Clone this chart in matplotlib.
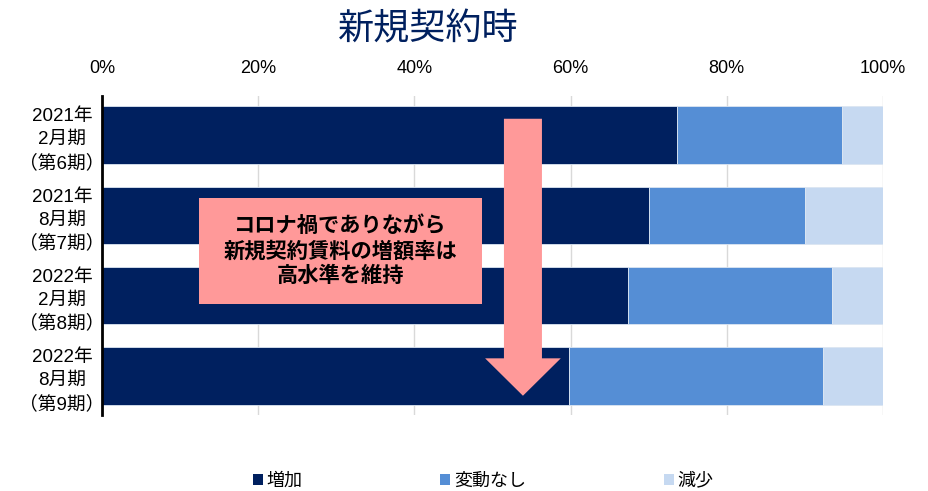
import matplotlib
matplotlib.use('Agg')
import matplotlib.pyplot as plt
from matplotlib.patches import Rectangle, FancyArrow, Patch
import numpy as np

plt.rcParams['font.family'] = ['Liberation Sans', 'Noto Sans CJK JP', 'DejaVu Sans']

TITLE = '新規契約時'
PERIODS = ['2021年\n2月期\n（第6期）', '2021年\n8月期\n（第7期）',
           '2022年\n2月期\n（第8期）', '2022年\n8月期\n（第9期）']
SERIES = ['増加', '変動なし', '減少']
INCREASE = [73.7, 70.1, 67.3, 59.8]
UNCHANGED = [21.1, 20.0, 26.2, 32.6]
DECREASE = [5.2, 9.9, 6.5, 7.6]
TICKS = [0, 20, 40, 60, 80, 100]
TICK_LABELS = ['0%', '20%', '40%', '60%', '80%', '100%']
NOTE = 'コロナ禍でありながら\n新規契約賃料の増額率は\n高水準を維持'

COLORS = ['#00205F', '#558ED5', '#C6D9F1']
PINK = '#FF9999'

fig = plt.figure(figsize=(9.29, 4.91), dpi=100)
ax = fig.add_axes([0.1101, 0.1548, 0.8401, 0.6497])

y = np.arange(len(PERIODS))
left = np.zeros(len(PERIODS))
for vals, color in zip([INCREASE, UNCHANGED, DECREASE], COLORS):
    ax.barh(y, vals, left=left, height=0.72, color=color,
            edgecolor='#DCE6F2', linewidth=0.6, zorder=2)
    left += np.array(vals)

ax.set_xlim(0, 100)
ax.set_ylim(3.49, -0.49)
ax.set_xticks(TICKS)
ax.set_xticklabels(TICK_LABELS, fontsize=13)
ax.xaxis.tick_top()
ax.tick_params(axis='x', length=0, pad=14)
ax.set_yticks(y)
ax.set_yticklabels(PERIODS, fontsize=13.5, linespacing=1.45, ha='center')
ax.tick_params(axis='y', length=0, pad=29)
ax.grid(axis='x', color='#D9D9D9', linewidth=1, zorder=0)
ax.set_axisbelow(True)
for side in ['top', 'right', 'bottom']:
    ax.spines[side].set_visible(False)
ax.spines['left'].set_linewidth(2)
ax.spines['left'].set_color('black')
ax.spines['left'].set_zorder(5)

# callout box and downward arrow
ax.add_patch(Rectangle((12.4, 0.78), 36.3, 1.32, facecolor=PINK,
                       edgecolor='none', zorder=4))
ax.text(30.5, 1.44, NOTE, ha='center', va='center', fontsize=15.3,
        fontweight='bold', linespacing=1.25, zorder=5,
        family=['Noto Sans CJK JP', 'DejaVu Sans'])
ax.add_patch(FancyArrow(53.9, -0.206, 0, 3.456, width=4.87,
                        head_width=9.7, head_length=0.467,
                        length_includes_head=True, facecolor=PINK,
                        edgecolor='none', zorder=4))

fig.text(0.461, 0.94, TITLE, ha='center', va='center', fontsize=26,
         color='#00205F', family=['Noto Sans CJK JP', 'DejaVu Sans'])

handles = [Patch(facecolor=c, edgecolor='none', label=s)
           for s, c in zip(SERIES, COLORS)]
fig.legend(handles=handles, loc='center', bbox_to_anchor=(0.52, 0.02),
           ncol=3, frameon=False, fontsize=13, handlelength=0.55,
           handleheight=0.55, handletextpad=0.2, columnspacing=7.65)

fig.savefig('out.png', dpi=100)
